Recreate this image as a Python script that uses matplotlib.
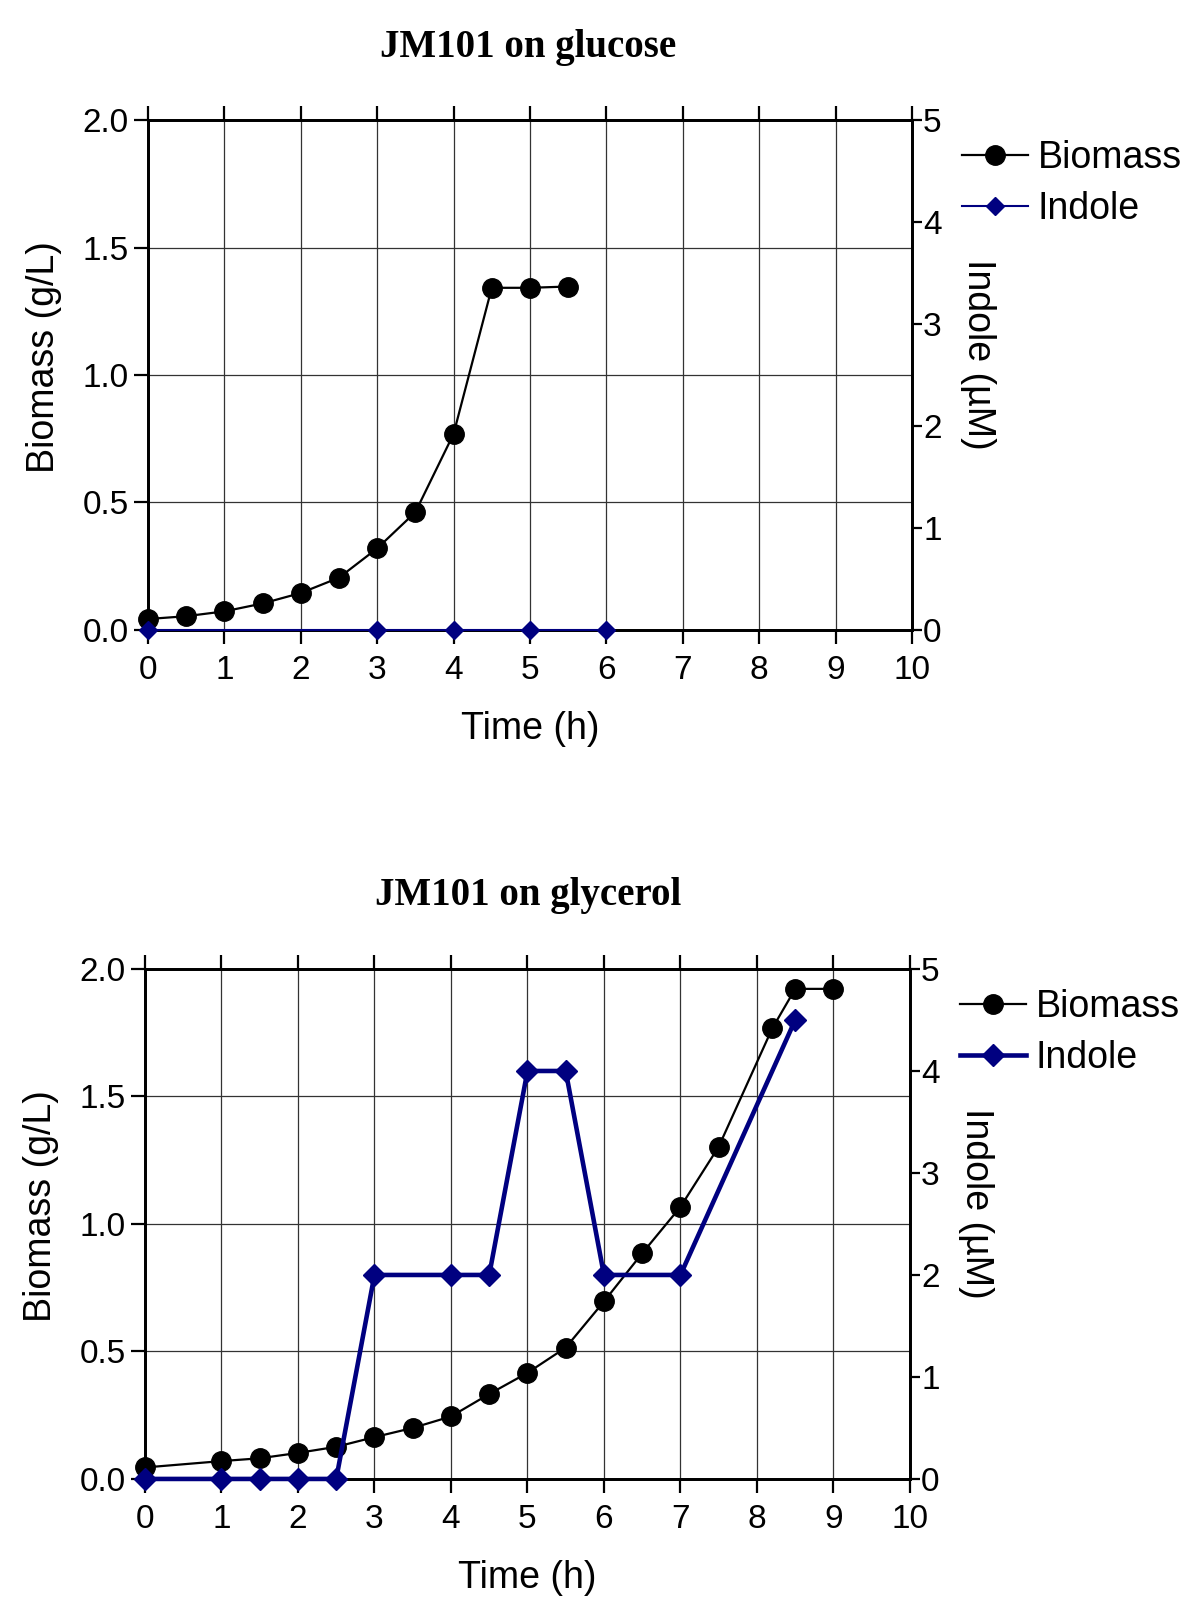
import matplotlib
matplotlib.use('Agg')
from matplotlib import pyplot as plt

# glucose run
t_bio_glc = [0, 0.5, 1, 1.5, 2, 2.5, 3, 3.5, 4, 4.5, 5, 5.5]
bio_glc = [0.043, 0.054, 0.073, 0.104, 0.145, 0.205, 0.320, 0.462, 0.769, 1.342, 1.342, 1.347]
t_ind_glc = [0, 3, 4, 5, 6]
ind_glc = [0, 0, 0, 0, 0]

# glycerol run
t_bio_gly = [0, 1, 1.5, 2, 2.5, 3, 3.5, 4, 4.5, 5, 5.5, 6, 6.5, 7, 7.5, 8.2, 8.5, 9]
bio_gly = [0.045, 0.070, 0.081, 0.102, 0.126, 0.164, 0.200, 0.245, 0.333, 0.416,
           0.515, 0.696, 0.885, 1.067, 1.303, 1.767, 1.922, 1.922]
t_ind_gly = [0, 1, 1.5, 2, 2.5, 3, 4, 4.5, 5, 5.5, 6, 7, 8.5]
ind_gly = [0, 0, 0, 0, 0, 2, 2, 2, 4, 4, 2, 2, 4.5]

titles = ['JM101 on glucose', 'JM101 on glycerol']
x_ticks = list(range(0, 11))
left_ticks = [0.0, 0.5, 1.0, 1.5, 2.0]
right_ticks = [0, 1, 2, 3, 4, 5]

NAVY = '#000080'
plt.rcParams['font.family'] = ['Liberation Sans', 'DejaVu Sans']

fig = plt.figure(figsize=(12, 16.22), dpi=100)

panels = [
    dict(pos=[0.1233, 0.6116, 0.6367, 0.3144], tb=t_bio_glc, b=bio_glc, ti=t_ind_glc, i=ind_glc,
         ind_lw=1.5, ind_ms=9, title_y=1 - 47 / 1622),
    dict(pos=[0.1208, 0.0882, 0.6375, 0.3144], tb=t_bio_gly, b=bio_gly, ti=t_ind_gly, i=ind_gly,
         ind_lw=3.3, ind_ms=11, title_y=1 - 896 / 1622),
]

for k, p in enumerate(panels):
    ax = fig.add_axes(p['pos'])
    ax2 = ax.twinx()
    l1, = ax.plot(p['tb'], p['b'], color='black', lw=1.6, marker='o', ms=14,
                  clip_on=False, zorder=3, label='Biomass')
    l2, = ax2.plot(p['ti'], p['i'], color=NAVY, lw=p['ind_lw'], marker='D', ms=p['ind_ms'],
                   clip_on=False, zorder=3, label='Indole')

    ax.set_xlim(0, 10)
    ax.set_ylim(0, 2.0)
    ax2.set_ylim(0, 5)
    ax.set_xticks(x_ticks)
    ax.set_yticks(left_ticks)
    ax.set_yticklabels(['%.1f' % v for v in left_ticks])
    ax2.set_yticks(right_ticks)
    ax.grid(True, color='#333333', lw=0.9)
    ax.set_axisbelow(True)

    for a in (ax, ax2):
        for s in a.spines.values():
            s.set_linewidth(2)
    ax.tick_params(axis='both', direction='out', length=10, width=1.6, labelsize=24,
                   top=True, pad=4)
    ax.tick_params(axis='x', pad=8)
    ax2.tick_params(axis='y', direction='out', length=7, width=1.6, labelsize=24, pad=1)

    ax.set_xlabel('Time (h)', fontsize=27)
    ax.xaxis.set_label_coords(0.5, -0.158)
    ax.set_ylabel('Biomass (g/L)', fontsize=27)
    ax.yaxis.set_label_coords(-0.113, 0.535)
    ax2.set_ylabel('Indole (µM)', fontsize=27, rotation=-90, va='center')
    ax2.yaxis.set_label_coords(1.086, 0.54)

    ax2.legend([l1, l2], ['Biomass', 'Indole'], loc='upper left', bbox_to_anchor=(1.066, 0.96),
               frameon=False, fontsize=27, handlelength=1.75, handletextpad=0.25,
               borderaxespad=0, borderpad=0, labelspacing=0.4)

    fig.text(0.44, p['title_y'], titles[k], ha='center', va='center', fontsize=28,
             fontweight='bold', family=['Liberation Serif', 'DejaVu Serif'])

fig.savefig('out.png', dpi=100)
